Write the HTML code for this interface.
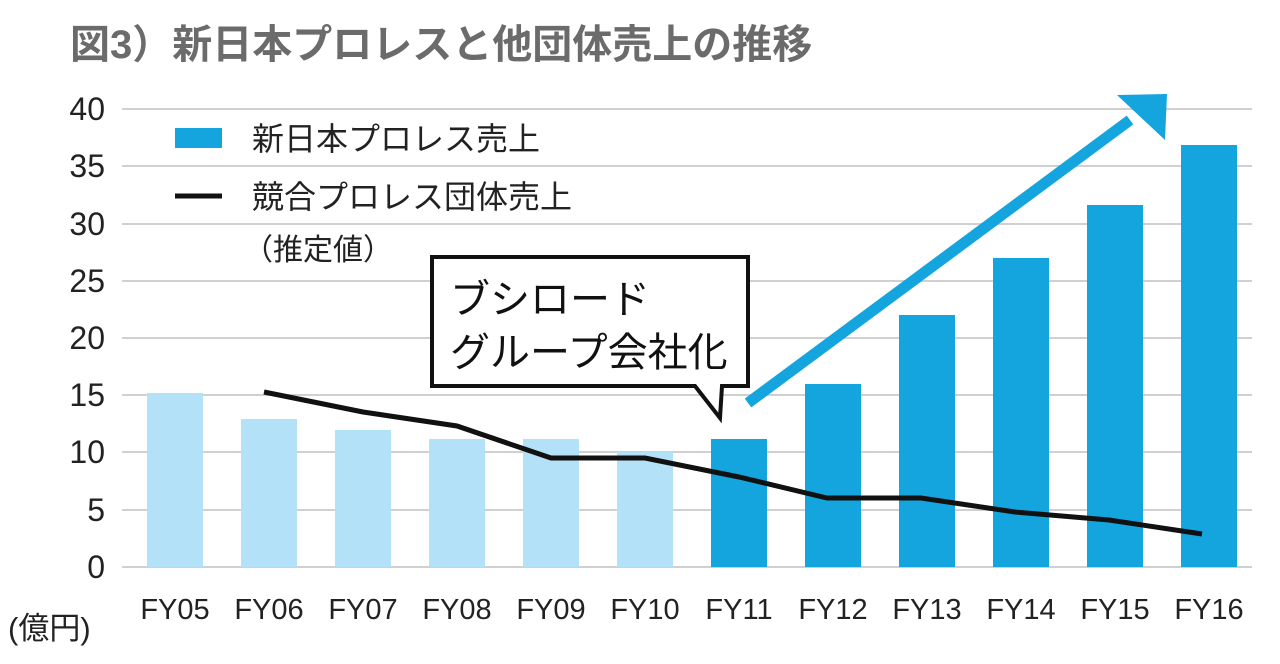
<!DOCTYPE html>
<html><head><meta charset="utf-8"><style>
html,body{margin:0;padding:0;background:#fff;}
svg{display:block;}
text{font-family:"Liberation Sans","Noto Sans CJK JP",sans-serif;}
</style></head><body>
<svg width="1280" height="664" viewBox="0 0 1280 664" xmlns="http://www.w3.org/2000/svg">
<text x="70" y="58" font-size="40" font-weight="bold" fill="#6b6b6b">図3）新日本プロレスと他団体売上の推移</text>
<g stroke="#d0d0d0" stroke-width="2">
<line x1="122" y1="109" x2="1252" y2="109"/><line x1="122" y1="166" x2="1252" y2="166"/>
<line x1="122" y1="224" x2="1252" y2="224"/><line x1="122" y1="281" x2="1252" y2="281"/>
<line x1="122" y1="338" x2="1252" y2="338"/><line x1="122" y1="395" x2="1252" y2="395"/>
<line x1="122" y1="452" x2="1252" y2="452"/><line x1="122" y1="510" x2="1252" y2="510"/>
<line x1="122" y1="567" x2="1252" y2="567"/>
</g>
<g font-size="32" fill="#222" text-anchor="end">
<text x="105" y="120">40</text><text x="105" y="177">35</text><text x="105" y="235">30</text>
<text x="105" y="292">25</text><text x="105" y="349">20</text><text x="105" y="406">15</text>
<text x="105" y="463">10</text><text x="105" y="521">5</text><text x="105" y="578">0</text>
</g>
<g fill="#b3e1f7">
<rect x="147" y="393" width="56" height="174"/><rect x="241" y="419" width="56" height="148"/>
<rect x="335" y="430" width="56" height="137"/><rect x="429" y="439" width="56" height="128"/>
<rect x="523" y="439" width="56" height="128"/><rect x="617" y="452" width="56" height="115"/>
</g>
<g fill="#14a5de">
<rect x="711" y="439" width="56" height="128"/><rect x="805" y="384" width="56" height="183"/>
<rect x="899" y="315" width="56" height="252"/><rect x="993" y="258" width="56" height="309"/>
<rect x="1087" y="205" width="56" height="362"/><rect x="1181" y="145" width="56" height="422"/>
</g>
<polyline points="264,392 363,412 457,426 551,458 645,458 739,477 827,498 921,498 1015,512 1109,520 1202,534" fill="none" stroke="#111" stroke-width="5"/>
<g font-size="29" fill="#222" text-anchor="middle">
<text x="175" y="619">FY05</text><text x="269" y="619">FY06</text><text x="363" y="619">FY07</text>
<text x="457" y="619">FY08</text><text x="551" y="619">FY09</text><text x="645" y="619">FY10</text>
<text x="739" y="619">FY11</text><text x="833" y="619">FY12</text><text x="927" y="619">FY13</text>
<text x="1021" y="619">FY14</text><text x="1115" y="619">FY15</text><text x="1209" y="619">FY16</text>
</g>
<text x="8" y="639" font-size="31" fill="#222">(億円)</text>
<rect x="175" y="128" width="47" height="20" fill="#14a5de"/>
<text x="252" y="150" font-size="32" fill="#222">新日本プロレス売上</text>
<line x1="175" y1="196" x2="222" y2="196" stroke="#111" stroke-width="5"/>
<text x="252" y="208" font-size="32" fill="#222">競合プロレス団体売上</text>
<text x="243" y="260" font-size="30" fill="#222">（推定値）</text>
<path d="M432,257 H748 V386 H722 L720,418 L695,386 H432 Z" fill="#fff" stroke="#111" stroke-width="4"/>
<text x="450" y="313" font-size="40" fill="#111">ブシロード</text>
<text x="450" y="366" font-size="40" fill="#111">グループ会社化</text>
<line x1="748" y1="403" x2="1130" y2="120" stroke="#14a5de" stroke-width="11"/>
<polygon points="1167,94 1117,95 1165,140" fill="#14a5de"/>
</svg>
</body></html>
